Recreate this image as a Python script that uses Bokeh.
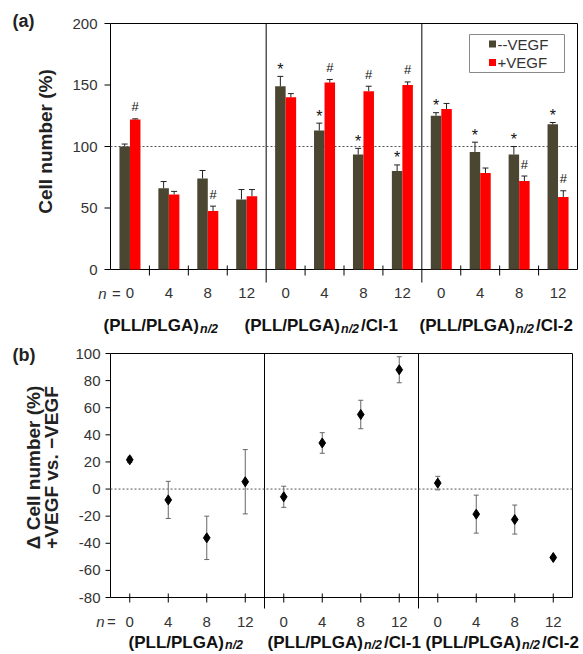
import numpy as np
from bokeh.plotting import figure
from bokeh.models import ColumnDataSource, Whisker, TeeHead, Range1d
from bokeh.core.properties import value
from bokeh.embed import file_html
from bokeh.resources import INLINE

# ---------------- data ----------------
group_main = ["(PLL/PLGA)", "(PLL/PLGA)", "(PLL/PLGA)"]
group_sub = ["n/2", "n/2", "n/2"]
group_suffix = ["", "/CI-1", "/CI-2"]
n_layers = ["0", "4", "8", "12"]

# panel (a): cell number (%)
minus_vegf = [100, 66, 74, 57, 149, 113, 93.5, 80, 125, 95.5, 93.5, 118]
minus_err = [2, 5.5, 6.5, 8, 8, 6, 5, 5, 2.5, 8, 6.5, 1.5]
plus_vegf = [122, 61, 47.5, 59.5, 140, 152, 145, 150, 130.5, 78.5, 72, 59]
plus_err = [0.5, 2.5, 4, 5.5, 3, 2.5, 4, 2.5, 4.5, 4, 4, 5]
star_minus = [False, False, False, False, True, True, True, True, True, True, True, True]
hash_plus = [True, False, True, False, False, True, True, True, False, False, True, True]
legend_labels = ["--VEGF", "+VEGF"]
y_ticks_a = [0, 50, 100, 150, 200]
y_tick_labels_a = ["0", "50", "100", "150", "200"]

# panel (b): delta cell number (%)
delta = [21.6, -8, -36, 5.4, -5.7, 34, 55, 88, 4.4, -18.5, -22.5, -50.5]
delta_err = [2, 13.7, 16, 23.7, 7.8, 7.6, 10.5, 9.6, 5, 14, 10.7, 1]
y_ticks_b = [-80, -60, -40, -20, 0, 20, 40, 60, 80, 100]
y_tick_labels_b = ["-80", "-60", "-40", "-20", "0", "20", "40", "60", "80", "100"]

# ---------------- style / layout ----------------
FONT = "Liberation Sans"
DARK = "#4b4632"
RED = "#ff0000"
TXT = "#333333"
INK = "#111111"
W = 583
H = 654

n_cat = len(minus_vegf)
n_groups = len(group_main)
per_group = len(n_layers)
centers = [i + 0.5 for i in range(n_cat)]
boundaries = [i for i in range(1, n_cat) if i % per_group != 0]
dividers = [g * per_group for g in range(1, n_groups)]
tick_labels = n_layers * n_groups


def make_conv(d0, d1, s0, s1):
    return lambda s: d0 + (s - s0) * (d1 - d0) / (s1 - s0)


# pixel placement of the two panels' plot areas
dx1 = make_conv(0, n_cat, 110, 577)
dy1 = make_conv(0, 200, 269, 23)
dx2 = make_conv(0, n_cat, 110, 572)
dy2 = make_conv(-80, 100, 597, 353)

p = figure(width=W, height=H,
           x_range=Range1d(dx1(0), dx1(W)), y_range=Range1d(dy1(H), dy1(0)),
           x_axis_location=None, y_axis_location=None,
           output_backend="svg", toolbar_location=None,
           min_border=0, min_border_left=0, min_border_right=0,
           min_border_top=0, min_border_bottom=0)
p.extra_x_ranges = {"b": Range1d(dx2(0), dx2(W))}
p.extra_y_ranges = {"b": Range1d(dy2(H), dy2(0))}
p.grid.visible = False
p.outline_line_color = None
p.background_fill_color = "white"
p.border_fill_color = "white"

RA = dict()
RB = dict(x_range_name="b", y_range_name="b")


def txt(x, y, t, rk, size="15px", style="normal", align="center", baseline="middle",
        color=TXT, angle=0, **kw):
    p.text(x=x, y=y, text=t, text_font=value(FONT), text_font_size=size,
           text_font_style=style, text_align=align, text_baseline=baseline,
           text_color=color, angle=angle, **rk, **kw)


def draw_axes(rk, dx, dy, ylo, yhi, yticks, ylabels, tick_left_px, label_right_px,
              xtick_pos, xtick_top_px, xtick_bot_px, div_bot_px, xlabel_px,
              n_px, eq_px, ref_line):
    p.quad(left=0, right=n_cat, bottom=ylo, top=yhi, fill_color=None,
           line_color="black", line_width=1, **rk)
    p.segment(x0=[0] * len(yticks), y0=yticks, x1=[dx(tick_left_px)] * len(yticks),
              y1=yticks, line_color="black", line_width=1, **rk)
    txt([dx(label_right_px)] * len(yticks), yticks, ylabels, rk, align="right")
    p.segment(x0=xtick_pos, y0=[dy(xtick_top_px)] * len(xtick_pos), x1=xtick_pos,
              y1=[dy(xtick_bot_px)] * len(xtick_pos), line_color="black", line_width=1, **rk)
    p.segment(x0=dividers, y0=[yhi] * len(dividers), x1=dividers,
              y1=[dy(div_bot_px)] * len(dividers), line_color="black", line_width=1, **rk)
    txt(centers, [dy(xlabel_px)] * n_cat, tick_labels, rk)
    txt([dx(n_px)], [dy(xlabel_px)], ["n"], rk, style="italic", align="right")
    txt([dx(eq_px)], [dy(xlabel_px)], ["="], rk)
    p.segment(x0=[0], y0=[ref_line], x1=[n_cat], y1=[ref_line], line_color="#555555",
              line_dash="2 2", line_width=1, **rk)


def group_labels(rk, dx, dy, starts, baseline, sub_baseline):
    for i in range(n_groups):
        x0 = starts[i]
        txt([dx(x0)], [dy(baseline)], [group_main[i]], rk, size="17px", style="bold",
            align="left", baseline="alphabetic", color=INK)
        xs = x0 + 96.5
        txt([dx(xs)], [dy(sub_baseline)], [group_sub[i]], rk, size="12.5px",
            style="bold italic", align="left", baseline="alphabetic", color=INK)
        if group_suffix[i]:
            txt([dx(xs + 20)], [dy(baseline)], [group_suffix[i]], rk, size="17px",
                style="bold", align="left", baseline="alphabetic", color=INK)


# ================= panel (a) =================
draw_axes(RA, dx1, dy1, 0, 200, y_ticks_a, y_tick_labels_a, 104, 97,
          boundaries, 265, 275, 282, 292.5, 106, 116, 100)

x_minus = [c - 0.135 for c in centers]
x_plus = [c + 0.135 for c in centers]
p.vbar(x=x_minus, top=minus_vegf, width=0.27, fill_color=DARK, line_color=None)
p.vbar(x=x_plus, top=plus_vegf, width=0.27, fill_color=RED, line_color=None)

for xs, vals, errs in ((x_minus, minus_vegf, minus_err), (x_plus, plus_vegf, plus_err)):
    src = ColumnDataSource(dict(x=xs, lower=vals, upper=[v + e for v, e in zip(vals, errs)]))
    p.add_layout(Whisker(source=src, base="x", lower="lower", upper="upper",
                         dimension="height", line_color="#222222", line_width=1,
                         lower_head=None,
                         upper_head=TeeHead(size=6, line_color="#222222", line_width=1),
                         level="annotation"))

sx = [x for x, s in zip(x_minus, star_minus) if s]
sy = [v + e for v, e, s in zip(minus_vegf, minus_err, star_minus) if s]
txt(sx, sy, ["*"] * len(sx), RA, size="16px", color=INK, y_offset=-7)
hx = [x for x, s in zip(x_plus, hash_plus) if s]
hy = [v + e for v, e, s in zip(plus_vegf, plus_err, hash_plus) if s]
txt(hx, hy, ["#"] * len(hx), RA, size="13px", color=INK, y_offset=-12)

# legend
p.quad(left=[dx1(469)], right=[dx1(564)], top=[dy1(34)], bottom=[dy1(72)],
       fill_color="white", line_color="#888888", line_width=1)
leg_y = [dy1(43.5), dy1(62)]
p.scatter(x=[dx1(492)] * 2, y=leg_y, marker="square", size=7,
          fill_color=[DARK, RED], line_color=None)
txt([dx1(497)] * 2, leg_y, legend_labels, RA, align="left")

txt([dx1(12)], [dy1(20)], ["(a)"], RA, size="18px", style="bold", align="left", color="#222222")
txt([dx1(45)], [dy1(141)], ["Cell number (%)"], RA, size="19px", style="bold",
    color="#222222", angle=np.pi / 2)
group_labels(RA, dx1, dy1, [103, 244, 419], 324.5, 328.5)

# ================= panel (b) =================
draw_axes(RB, dx2, dy2, -80, 100, y_ticks_b, y_tick_labels_b, 105, 100,
          centers, 593, 602, 608, 621, 104, 111, 0)

src2 = ColumnDataSource(dict(x=centers, y=delta,
                             lower=[v - e for v, e in zip(delta, delta_err)],
                             upper=[v + e for v, e in zip(delta, delta_err)]))
p.add_layout(Whisker(source=src2, base="x", lower="lower", upper="upper", dimension="height",
                     line_color="#666666", line_width=1,
                     lower_head=TeeHead(size=5, line_color="#666666", line_width=1),
                     upper_head=TeeHead(size=5, line_color="#666666", line_width=1),
                     level="annotation", **RB))
p.scatter(x="x", y="y", source=src2, marker="diamond", size=10, fill_color="black",
          line_color="black", level="overlay", **RB)

txt([dx2(12)], [dy2(354)], ["(b)"], RB, size="18px", style="bold", align="left", color="#222222")
txt([dx2(33)], [dy2(467)], ["\u0394 Cell number (%)"], RB, size="19px", style="bold",
    color="#222222", angle=np.pi / 2)
txt([dx2(51)], [dy2(467)], ["+VEGF vs. \u2212VEGF"], RB, size="19px", style="bold",
    color="#222222", angle=np.pi / 2)
group_labels(RB, dx2, dy2, [128, 267, 425], 641.5, 644.5)

open("out.html", "w").write(file_html(p, INLINE))
